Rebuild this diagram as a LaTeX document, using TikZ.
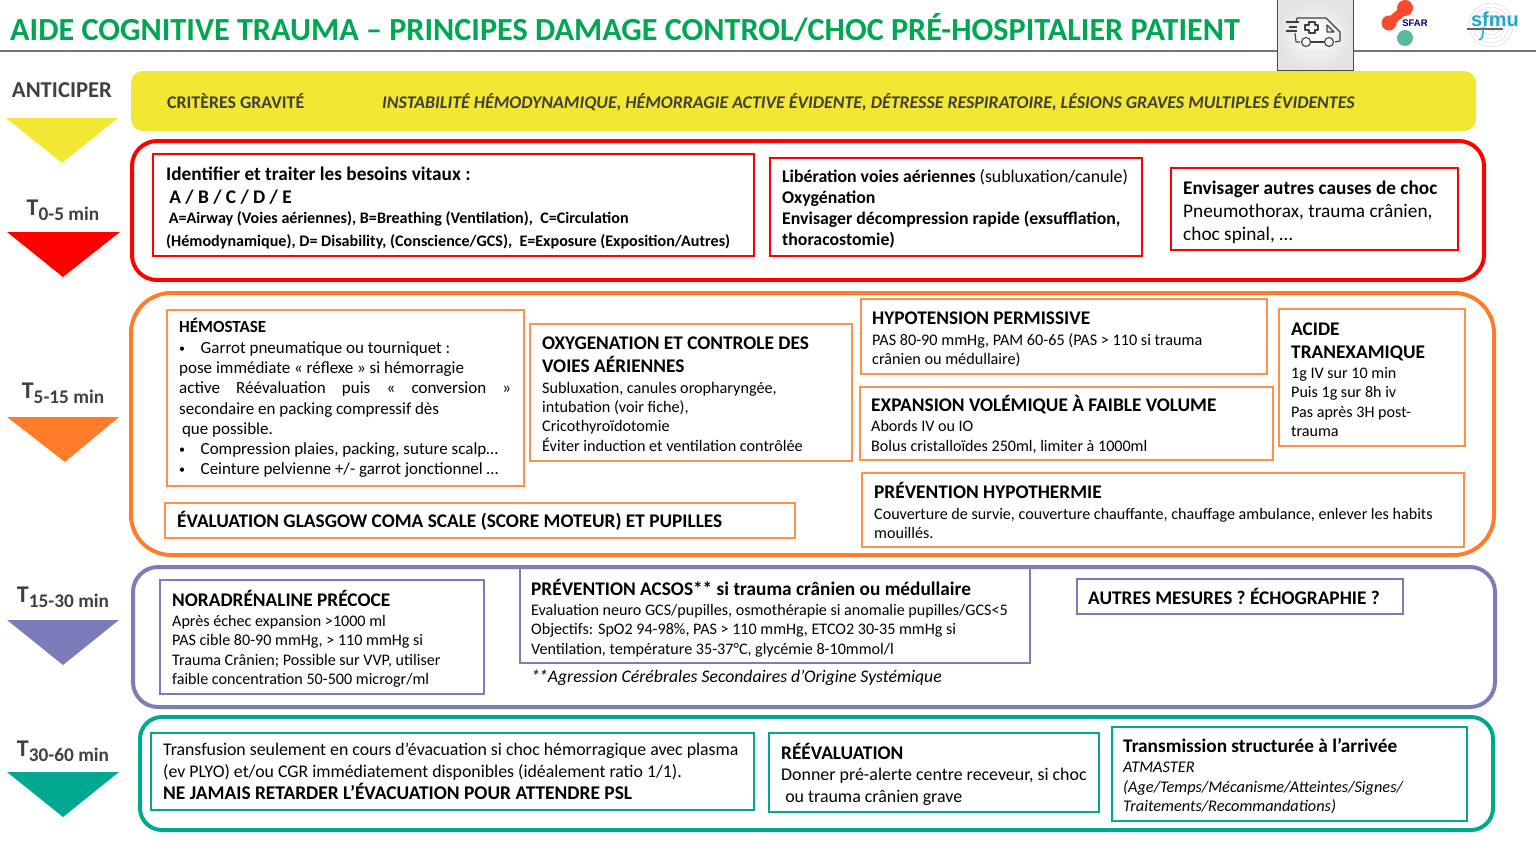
\documentclass[tikz,border=0pt]{standalone}
\usepackage{fontspec}
\setmainfont{Carlito}
\newfontfamily\logofont{Liberation Sans}
\usetikzlibrary{positioning}

\definecolor{titlegreen}{HTML}{00A651}
\definecolor{antyellow}{HTML}{F2E733}
\definecolor{critred}{HTML}{FF0000}
\definecolor{critorange}{HTML}{FF7C2A}
\definecolor{critpurple}{HTML}{7A7DB9}
\definecolor{critteal}{HTML}{00A88F}
\definecolor{labelgray}{HTML}{404040}
\definecolor{sfarred}{HTML}{FA4A2E}
\definecolor{sfarteal}{HTML}{58BA9C}
\definecolor{sfmublue}{HTML}{22A6CF}

\tikzset{
    frame/.style={line width=4pt, rounded corners=#1},
    inred/.style={draw=critred, line width=1.3pt},
    inorange/.style={draw=critorange!85, line width=1.3pt},
    inpurple/.style={draw=critpurple, line width=1.3pt},
    inteal/.style={draw=critteal, line width=1.3pt},
    txt/.style={anchor=north west, inner sep=0pt, align=left, text=black},
    head/.style={txt, font=\fontsize{19.3}{23}\selectfont\bfseries},
    body/.style={txt, font=\fontsize{16.1}{20.4}\selectfont},
    timelbl/.style={inner sep=0pt, text=labelgray, font=\fontsize{24}{24}\selectfont\bfseries}
}
\newcommand{\timesub}[1]{T\raisebox{-5pt}{\fontsize{19.3}{19}\selectfont #1}}
\newcommand{\puce}{\makebox[21.5pt][l]{\raisebox{1pt}{\fontsize{12}{12}\selectfont\textbullet}}}

\begin{document}
\begin{tikzpicture}[x=1pt, y=-1pt]
    \useasboundingbox (0,0) rectangle (1536,857);

    % Title
    \node [txt, text=titlegreen, font=\fontsize{32.2}{32}\selectfont\bfseries] (title) at (10,13) {AIDE COGNITIVE TRAUMA -- PRINCIPES DAMAGE CONTROL/CHOC PRÉ-HOSPITALIER PATIENT};
    \draw [gray!90!black, line width=1.2pt] (0,51) -- (1536,51);

    % Ambulance
    \shade [inner color=white, outer color=gray!22] (1277,0) rectangle (1353,70);
    \fill [gray!15] (1316,52) ellipse [x radius=18, y radius=1.2];
    \draw [black!70, line width=1pt] (1277,0) -- (1277,70) -- (1353,70) -- (1353,0);
    \begin{scope}[black!75, line width=1.1pt, line join=round]
        \draw (1296,22) -- (1297,18) -- (1326,18) -- (1340,32) -- (1340,41) -- (1335,42);
        \draw (1324,42) -- (1311,42);
        \draw (1300,42) -- (1296,42) -- (1295,33);
        \draw (1286,22) -- (1299,22) (1289,27) -- (1297,27) (1286,31) -- (1297,31);
        \draw (1306,42) circle [radius=4.5] (1329,42) circle [radius=4.5];
        \draw (1327,25) -- (1334,32) -- (1327,32) -- cycle;
        \draw (1309,22) -- (1315,22) -- (1315,25) -- (1318,25) -- (1318,30) -- (1315,30) -- (1315,33) -- (1309,33) -- (1309,30) -- (1305,30) -- (1305,25) -- (1309,25) -- cycle;
    \end{scope}

    % SFAR logo
    \fill [sfarred] (1405,8) circle [radius=8];
    \fill [sfarred] (1389,23) circle [radius=7.5];
    \draw [sfarred, line width=9pt] (1403,11) -- (1391,21);
    \fill [sfarteal] (1405,38) ellipse [x radius=8, y radius=8];
    \node [inner sep=0pt, text=blue!40!black, font=\logofont\fontsize{9.5}{10}\selectfont\bfseries] (sfar) at (1415,23) {SFAR};

    % SFMU logo
    \foreach \rad in {6,10,14,18,22}
        \draw [gray!30, line width=0.5pt] (1491,25) circle [radius=\rad];
    \draw [black!60, line width=2pt] (1467,29) -- (1503,29);
    \draw [sfmublue, line width=1.5pt] (1484,27) -- (1482,38) -- (1479,40);
    \node [inner sep=0pt, text=sfmublue, font=\logofont\fontsize{20}{20}\selectfont\bfseries] (sfmu) at (1495,19) {sfmu};

    % Left column
    \node [inner sep=0pt, text=labelgray, font=\fontsize{22.7}{22}\selectfont\bfseries] (anticiper) at (62,90) {ANTICIPER};
    \node [timelbl] (tzero) at (63,210) {\timesub{0-5 min}};
    \node [timelbl] (tfive) at (63,393) {\timesub{5-15 min}};
    \node [timelbl] (tfifteen) at (63,597) {\timesub{15-30 min}};
    \node [timelbl] (tthirty) at (63,751) {\timesub{30-60 min}};
    \fill [antyellow] (6,118) -- (118,118) -- (62,163) -- cycle;
    \fill [critred] (7,232) -- (120,232) -- (63,277) -- cycle;
    \fill [critorange] (7,417) -- (119,417) -- (65,462) -- cycle;
    \fill [critpurple] (7,620) -- (119,620) -- (63,665) -- cycle;
    \fill [critteal] (7,772) -- (119,772) -- (63,817) -- cycle;

    % Anticiper band
    \fill [antyellow, rounded corners=12pt] (131,71) rectangle (1476,131);
    \node [txt, text=labelgray, font=\fontsize{17.85}{18}\selectfont\bfseries] (crit) at (167,93) {CRITÈRES GRAVITÉ};
    \node [txt, text=labelgray, font=\fontsize{17.85}{18}\selectfont\bfseries\itshape] (instab) at (382,93) {INSTABILITÉ HÉMODYNAMIQUE, HÉMORRAGIE ACTIVE ÉVIDENTE, DÉTRESSE RESPIRATOIRE, LÉSIONS GRAVES MULTIPLES ÉVIDENTES};

    % T 0-5
    \draw [frame=25pt, critred] (132,141) rectangle (1484,280);
    \draw [inred] (153,154) rectangle (754,256);
    \node [head] (vital) at (166,167) {Identifier et traiter les besoins vitaux :\\\,A / B / C / D / E};
    \node [txt, font=\fontsize{16.1}{23}\selectfont\bfseries] (abcde) at (166,211) {\,A=Airway (Voies aériennes), B=Breathing (Ventilation),\ \ C=Circulation\\(Hémodynamique), D= Disability, (Conscience/GCS),\ \ E=Exposure (Exposition/Autres)};
    \draw [inred] (770,158) rectangle (1142,256);
    \node [txt, font=\fontsize{17.8}{21.2}\selectfont] (airway) at (782,169) {\textbf{Libération voies aériennes} (subluxation/canule)\\\textbf{Oxygénation}\\\textbf{Envisager décompression rapide (exsufflation,}\\\textbf{thoracostomie)}};
    \draw [inred] (1171,168) rectangle (1458,250);
    \node [txt, font=\fontsize{19.3}{23}\selectfont] (causes) at (1183,181) {\textbf{Envisager autres causes de choc}\\Pneumothorax, trauma crânien,\\choc spinal, \dots};

    % T 5-15
    \draw [frame=40pt, critorange] (131,293) rectangle (1494,555);
    \draw [inorange] (167,310) rectangle (524,486);
    \node [txt, font=\fontsize{17}{20}\selectfont\bfseries] (hemohead) at (179,318) {HÉMOSTASE};
    \node [body, font=\fontsize{17}{20.2}\selectfont] (hemobody) at (179,341.5) {\puce Garrot pneumatique ou tourniquet :\\pose immédiate « réflexe » si hémorragie\\\makebox[332pt][s]{active\hfill Réévaluation\hfill puis\hfill «\hfill conversion\hfill »}\\secondaire en packing compressif dès\\\,que possible.\\\puce Compression plaies, packing, suture scalp\dots\\\puce Ceinture pelvienne +/- garrot jonctionnel \dots};
    \draw [inorange] (165,503) rectangle (795,538);
    \node [txt, font=\fontsize{19.3}{20}\selectfont\bfseries] (glasgow) at (177,511) {ÉVALUATION GLASGOW COMA SCALE (SCORE MOTEUR) ET PUPILLES};
    \draw [inorange] (530,324) rectangle (852,461);
    \node [head] (oxyhead) at (542,337) {OXYGENATION ET CONTROLE DES\\VOIES AÉRIENNES};
    \node [txt, font=\fontsize{16.2}{19.2}\selectfont] (oxybody) at (542,382) {Subluxation, canules oropharyngée,\\intubation (voir fiche),\\Cricothyroïdotomie\\Éviter induction et ventilation contrôlée};
    \draw [inorange] (861,299) rectangle (1267,374);
    \node [head] (hypohead) at (872,312) {HYPOTENSION PERMISSIVE};
    \node [body, font=\fontsize{16.2}{19}\selectfont] (hypobody) at (872,333) {PAS 80-90 mmHg, PAM 60-65 (PAS > 110 si trauma\\crânien ou médullaire)};
    \draw [inorange] (860,387) rectangle (1273,460);
    \node [head] (expahead) at (871,395) {EXPANSION VOLÉMIQUE À FAIBLE VOLUME};
    \node [body] (expabody) at (871,420) {Abords IV ou IO\\Bolus cristalloïdes 250ml, limiter à 1000ml};
    \draw [inorange] (1279,309) rectangle (1465,446);
    \node [head] (acidehead) at (1291,323) {ACIDE\\TRANEXAMIQUE};
    \node [txt, font=\fontsize{16.1}{19.5}\selectfont] (acidebody) at (1291,367) {1g IV sur 10 min\\Puis 1g sur 8h iv\\Pas après 3H post-\\trauma};
    \draw [inorange] (862,473) rectangle (1464,547);
    \node [head] (prevhead) at (874,482) {PRÉVENTION HYPOTHERMIE};
    \node [body, font=\fontsize{16.1}{19}\selectfont] (prevbody) at (874,508) {Couverture de survie, couverture chauffante, chauffage ambulance, enlever les habits\\mouillés.};

    % T 15-30
    \draw [frame=25pt, critpurple] (133,567) rectangle (1495,707);
    \draw [inpurple] (160,580) rectangle (484,694);
    \node [head] (norahead) at (172,590) {NORADRÉNALINE PRÉCOCE};
    \node [body, font=\fontsize{16.1}{19.4}\selectfont] (norabody) at (172,615) {Après échec expansion >1000 ml\\PAS cible 80-90 mmHg, > 110 mmHg si\\Trauma Crânien; Possible sur VVP, utiliser\\faible concentration 50-500 microgr/ml};
    \draw [inpurple] (520,568) rectangle (1030,663);
    \node [head] (acsoshead) at (531,579) {PRÉVENTION ACSOS** si trauma crânien ou médullaire};
    \node [body, font=\fontsize{16.1}{19.5}\selectfont] (acsosbody) at (531,604) {Evaluation neuro GCS/pupilles, osmothérapie si anomalie pupilles/GCS<5\\Objectifs: SpO2 94-98\%, PAS > 110 mmHg, ETCO2 30-35 mmHg si\\Ventilation, température 35-37°C, glycémie 8-10mmol/l};
    \node [txt, font=\fontsize{17.7}{20}\selectfont\itshape] (acsosnote) at (531,670) {*\kern-1pt*Agression Cérébrales Secondaires d’Origine Systémique};
    \draw [inpurple] (1077,579) rectangle (1403,614);
    \node [head] (autres) at (1088,588) {AUTRES MESURES ? ÉCHOGRAPHIE ?};

    % T 30-60
    \draw [frame=22pt, critteal] (140,717) rectangle (1493,830);
    \draw [inteal] (151,733) rectangle (754,810);
    \node [txt, font=\fontsize{17.8}{22}\selectfont] (transf) at (163,743) {Transfusion seulement en cours d’évacuation si choc hémorragique avec plasma\\(ev PLYO) et/ou CGR immédiatement disponibles (idéalement ratio 1/1).\\\textbf{\fontsize{19.4}{22}\selectfont NE JAMAIS RETARDER L’ÉVACUATION POUR ATTENDRE PSL}};
    \draw [inteal] (769,733) rectangle (1099,812);
    \node [head] (reevhead) at (781,743) {RÉÉVALUATION};
    \node [txt, font=\fontsize{17.9}{21.5}\selectfont] (reevbody) at (781,768) {Donner pré-alerte centre receveur, si choc\\\ ou trauma crânien grave};
    \draw [inteal] (1112,727) rectangle (1467,821);
    \node [head] (transm) at (1123,738) {Transmission structurée à l’arrivée};
    \node [txt, font=\fontsize{16.3}{19.3}\selectfont\itshape] (transmbody) at (1123,762) {ATMASTER\\(Age/Temps/Mécanisme/Atteintes/Signes/\\Traitements/Recommandations)};
\end{tikzpicture}
\end{document}
